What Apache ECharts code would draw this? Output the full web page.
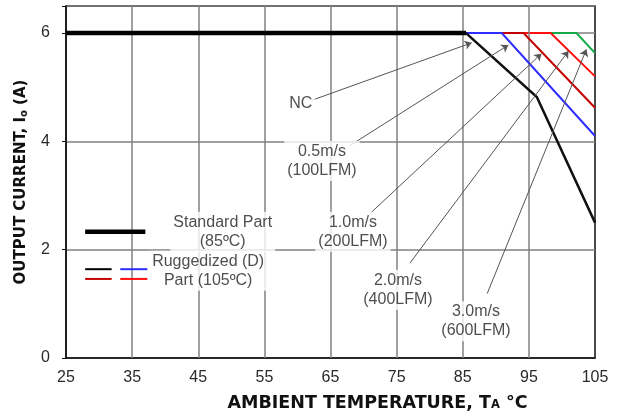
<!DOCTYPE html>
<html>
<head>
<meta charset="utf-8">
<script src="https://cdn.jsdelivr.net/npm/echarts@6/dist/echarts.min.js"></script>
<style>
  html, body { margin: 0; padding: 0; background: #fff; }
  #chart { width: 621px; height: 418px; }
</style>
</head>
<body>
<div id="chart"></div>
<script>
// Axis ticks
const xTicks = [25, 35, 45, 55, 65, 75, 85, 95, 105];
const yTicks = [0, 2, 4, 6];

// Derating curves: [ambient temperature °C, output current A]
const standardPart = [[25, 6], [85.5, 6]];
const ncCurve = [[85.5, 6], [96.2, 4.82], [105, 2.5]];
const air05 = [[85.5, 6], [90.9, 6], [105, 4.10]];
const air10 = [[85.5, 6], [94.2, 6], [105, 4.62]];
const air20 = [[85.5, 6], [98.3, 6], [105, 5.20]];
const air30 = [[85.5, 6], [102.2, 6], [105, 5.63]];

// Callout text and leader lines (label anchor -> arrow tip)
const calloutLabels = [
  [60.5, 4.70, 'NC'],
  [63.7, 3.64, '0.5m/s\n(100LFM)'],
  [68.4, 2.33, '1.0m/s\n(200LFM)'],
  [75.2, 1.26, '2.0m/s\n(400LFM)'],
  [87.0, 0.68, '3.0m/s\n(600LFM)']
];
const leaderFrom = [[62.2, 4.76], [67.9, 3.92], [71.0, 2.67], [77.0, 1.75], [88.7, 1.19]];
const leaderTo = [[86.35, 5.82], [91.9, 5.78], [96.9, 5.62], [101.0, 5.67], [103.7, 5.70]];

// Key entries drawn inside the plot
const keyLabels = [
  [48.7, 2.33, 'Standard Part\n(85ºC)'],
  [46.5, 1.61, 'Ruggedized (D)\nPart (105ºC)']
];
const keyStandard = [[27.9, 2.33], [37.0, 2.33]];
const keyRugBlack = [[27.9, 1.64], [31.9, 1.64]];
const keyRugBlue = [[33.2, 1.64], [37.3, 1.64]];
const keyRugDarkRed = [[27.9, 1.46], [31.9, 1.46]];
const keyRugRed = [[33.2, 1.46], [37.3, 1.46]];

const BLUE = '#2e2eff', DARKRED = '#c40000', RED = '#ff1010', GREEN = '#12ab48';
const GRID = '#808080';

function lineSeries(data, color, width, z) {
  return {
    type: 'line', data: data, symbol: 'none', silent: true, z: z,
    lineStyle: { color: color, width: width, cap: 'butt', join: 'miter' },
    animation: false
  };
}

function nameRich(size, subSize) {
  return {
    a: { fontFamily: 'DejaVu Sans', fontWeight: 'bold', fontSize: size, color: '#111' },
    s: { fontFamily: 'DejaVu Sans', fontWeight: 'bold', fontSize: subSize, color: '#111', padding: [5, 0, 0, 0] }
  };
}

const chart = echarts.init(document.getElementById('chart'), null, { renderer: 'canvas' });

const tickFont = { fontFamily: 'Liberation Sans', fontSize: 16, color: '#2a2a2a' };
const noteFont = 'Liberation Sans';

chart.setOption({
  animation: false,
  backgroundColor: '#fff',
  grid: { left: 66, right: 26, top: 6, bottom: 60, show: true, borderColor: '#111', borderWidth: 1.5, containLabel: false },
  xAxis: {
    type: 'value', min: 25, max: 105, interval: 5,
    axisLine: { show: true, lineStyle: { color: '#111', width: 1.5 } },
    axisTick: { show: false },
    splitLine: { show: false },
    axisLabel: Object.assign({ margin: 12, formatter: v => xTicks.includes(v) ? String(v) : '' }, tickFont),
    name: '{a|AMBIENT TEMPERATURE, T}{s|A}{a| °C}',
    nameLocation: 'middle', nameGap: 36,
    nameTextStyle: { padding: [0, 0, 0, 94], rich: nameRich(17.5, 11.5) }
  },
  yAxis: {
    type: 'value', min: 0, max: 6.5, interval: 2,
    axisLine: { show: true, lineStyle: { color: '#111', width: 1.5 } },
    axisTick: { show: true, length: 4, lineStyle: { color: '#111', width: 1 } },
    splitLine: { show: true, lineStyle: { color: GRID, width: 1.5 } },
    axisLabel: Object.assign({ margin: 16, formatter: v => yTicks.includes(v) ? String(v) : '' }, tickFont),
    name: '{a|OUTPUT CURRENT, I}{s|o}{a| (A)}',
    nameLocation: 'middle', nameGap: 37,
    nameTextStyle: { padding: [0, 0, 0, 0], rich: nameRich(15, 10) }
  },
  series: [
    // vertical grid lines at the labelled temperatures
    {
      type: 'line', data: [], z: 1, silent: true,
      markLine: {
        silent: true, symbol: 'none', animation: false,
        label: { show: false },
        lineStyle: { color: GRID, width: 1.5, type: 'solid' },
        data: xTicks.slice(1, -1).map(v => ({ xAxis: v }))
      }
    },
    lineSeries(air30, GREEN, 2, 3),
    lineSeries(air20, RED, 2, 4),
    lineSeries(air10, DARKRED, 2, 5),
    lineSeries(air05, BLUE, 2, 6),
    lineSeries(ncCurve, '#111', 2.5, 7),
    lineSeries(standardPart, '#000', 4.5, 8),
    // key swatches
    lineSeries(keyStandard, '#000', 4.5, 8),
    lineSeries(keyRugBlack, '#000', 2, 8),
    lineSeries(keyRugBlue, BLUE, 2, 8),
    lineSeries(keyRugDarkRed, DARKRED, 2, 8),
    lineSeries(keyRugRed, RED, 2, 8),
    // leader lines with arrowheads
    {
      type: 'lines', coordinateSystem: 'cartesian2d', z: 9, silent: true,
      symbol: ['none', 'arrow'], symbolSize: 7,
      lineStyle: { color: '#555', width: 1, opacity: 1, curveness: 0 },
      data: leaderFrom.map((p, i) => ({ coords: [p, leaderTo[i]] }))
    },
    // callout and key text, on white so grid lines break behind them
    {
      type: 'scatter', z: 10, silent: true, symbolSize: 1,
      itemStyle: { color: 'rgba(0,0,0,0)' },
      data: calloutLabels.concat(keyLabels).map(d => ({ value: [d[0], d[1]], name: d[2] })),
      label: {
        show: true, position: 'inside', formatter: p => p.name,
        fontFamily: noteFont, fontSize: 16, lineHeight: 19, color: '#222',
        align: 'center', verticalAlign: 'middle',
        backgroundColor: '#fff', padding: [1, 3]
      }
    }
  ]
});
</script>
</body>
</html>
